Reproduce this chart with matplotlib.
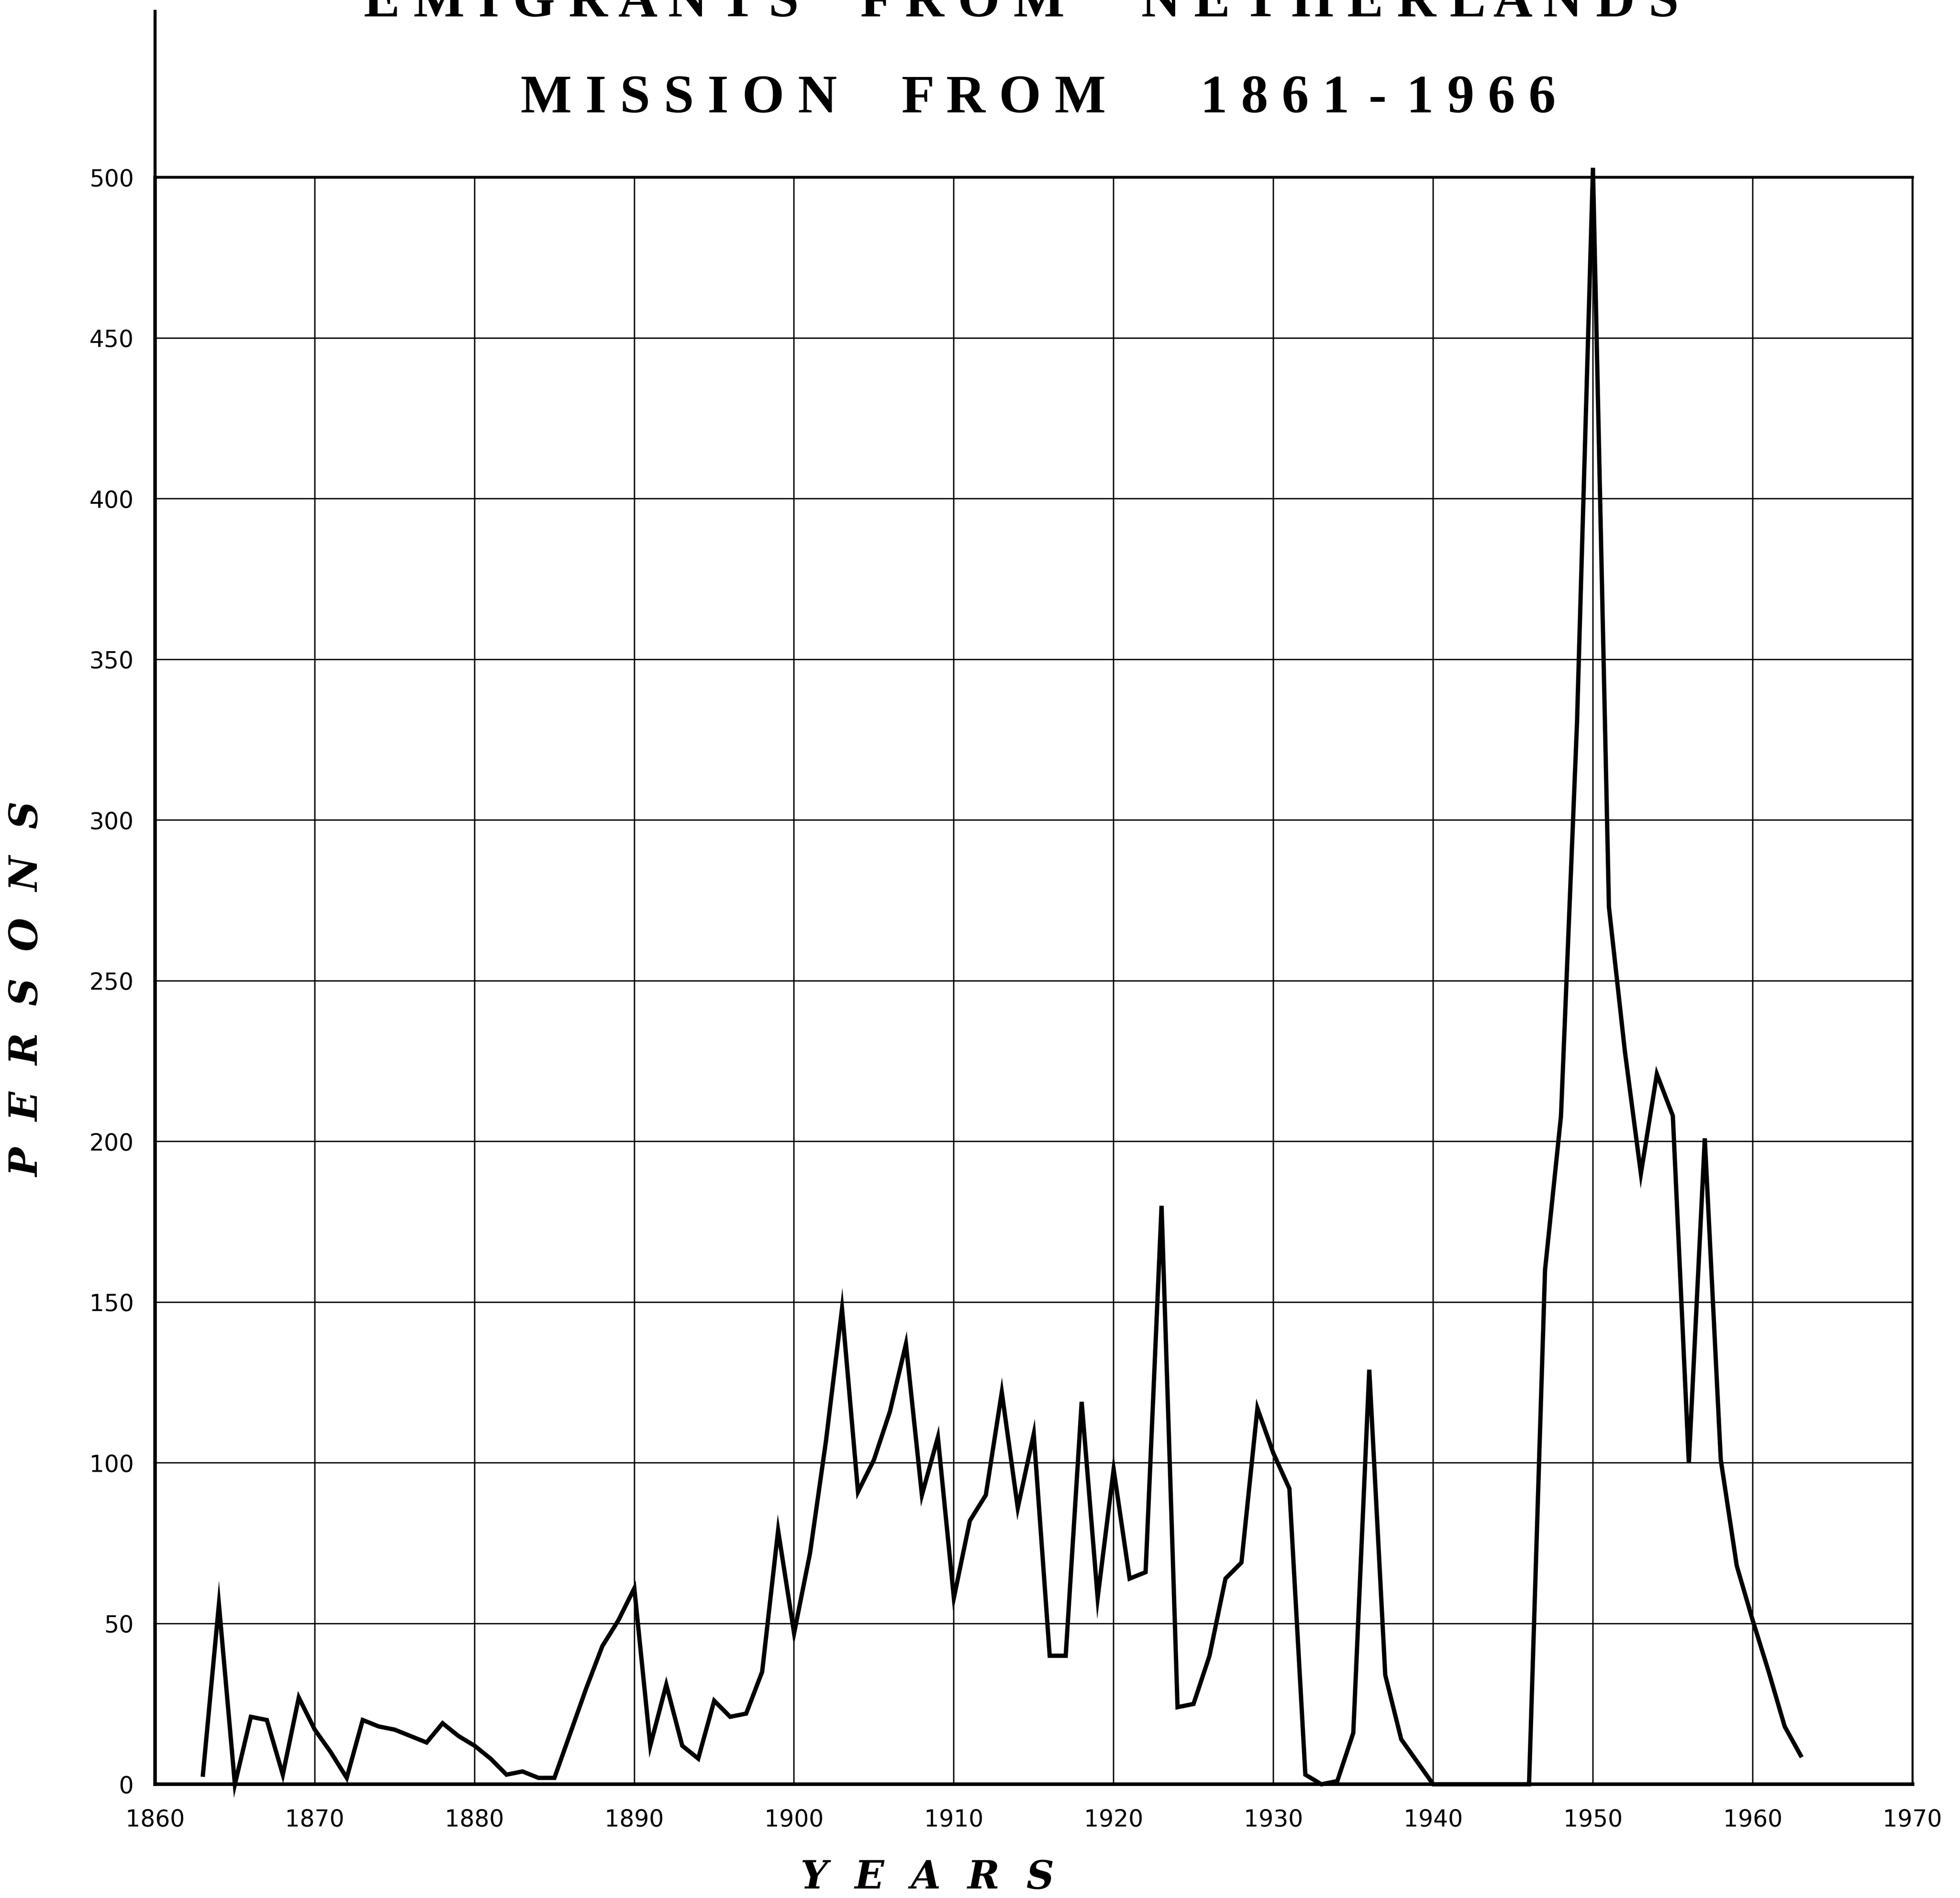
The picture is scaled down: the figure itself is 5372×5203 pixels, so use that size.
import matplotlib
matplotlib.use("Agg")
import matplotlib.pyplot as plt

# ---- data ----
years = list(range(1863, 1964))
persons = [
    3, 56, 0, 21, 20, 3, 27, 17, 10, 2,            # 1863-1872
    20, 18, 17, 15, 13, 19, 15, 12, 8, 3,          # 1873-1882
    4, 2, 2, 16, 30, 43, 51, 61, 12, 31,           # 1883-1892
    12, 8, 26, 21, 22, 35, 79, 47, 72, 107,        # 1893-1902
    148, 91, 101, 116, 137, 90, 108, 58, 82, 90,   # 1903-1912
    122, 86, 109, 40, 40, 119, 58, 98, 64, 66,     # 1913-1922
    180, 24, 25, 40, 64, 69, 117, 103, 92, 3,      # 1923-1932
    0, 1, 16, 129, 34, 14, 7, 0, 0, 0,             # 1933-1942
    0, 0, 0, 0, 160, 208, 330, 503, 273, 228,      # 1943-1952
    190, 221, 208, 100, 201, 101, 68, 51, 35, 18,  # 1953-1962
    9,                                             # 1963
]
x_ticks = list(range(1860, 1971, 10))
x_tick_labels = [str(v) for v in x_ticks]
y_ticks = list(range(0, 501, 50))
y_tick_labels = [str(v) for v in y_ticks]

title1_words = ["E M I G R A N T S", "F R O M", "N E T H E R L A N D S"]
title1_centers = [465, 770, 1128]          # reference pixel columns (1568 wide)
title2_words = ["M I S S I O N", "F R O M", "1 8 6 1", "-", "1 9 6 6"]
title2_centers = [543, 803, 1020, 1102, 1185]
x_label = "Y  E  A  R  S"
y_label = "P  E  R  S  O  N  S"

W, H = 1568, 1519
fig = plt.figure(figsize=(53.72, 52.03), dpi=100)
ax = fig.add_axes([124 / W, 1 - 1428 / H, (1530 - 124) / W, (1428 - 142) / H])
ax.set_xlim(1860, 1970)
ax.set_ylim(0, 500)

ax.plot(years, persons, color="black", lw=8.5, solid_joinstyle="miter",
        clip_on=False, zorder=3)

ax.set_xticks(x_ticks)
ax.set_xticklabels(x_tick_labels)
ax.set_yticks(y_ticks)
ax.set_yticklabels(y_tick_labels)
ax.tick_params(axis="y", length=0, labelsize=46, pad=42)
ax.tick_params(axis="x", length=0, labelsize=46, pad=48)
for lab in ax.get_xticklabels() + ax.get_yticklabels():
    lab.set_fontfamily("DejaVu Sans")
    lab.set_fontweight("medium")
ax.grid(True, color="black", lw=2.6)
ax.set_axisbelow(True)

for side, lw in [("left", 7), ("right", 4), ("top", 5.5), ("bottom", 7)]:
    ax.spines[side].set_linewidth(lw)
    ax.spines[side].set_color("black")

# left axis line extending above the plot
ax.plot([0, 0], [1, (1428 - 8) / (1428 - 142)], transform=ax.transAxes,
        color="black", lw=6, clip_on=False, solid_capstyle="butt")

for word, cx in zip(title1_words, title1_centers):
    fig.text(cx / W, 1 - 45 / 5203, word, ha="center", va="baseline",
             fontsize=107, fontweight="bold", family="Liberation Serif")
for word, cx in zip(title2_words, title2_centers):
    fig.text(cx / W, 1 - 308 / 5203, word, ha="center", va="baseline",
             fontsize=107, fontweight="bold", family="Liberation Serif")

fig.text(742 / W, 1 - 1503 / H, x_label, ha="center", va="center",
         fontsize=76, fontweight="bold", style="italic", family="DejaVu Serif")
fig.text(22 / W, 1 - 792 / H, y_label, ha="center", va="center", rotation=90,
         fontsize=76, fontweight="bold", style="italic", family="DejaVu Serif")

fig.savefig("out.png", dpi=100, facecolor="white")
